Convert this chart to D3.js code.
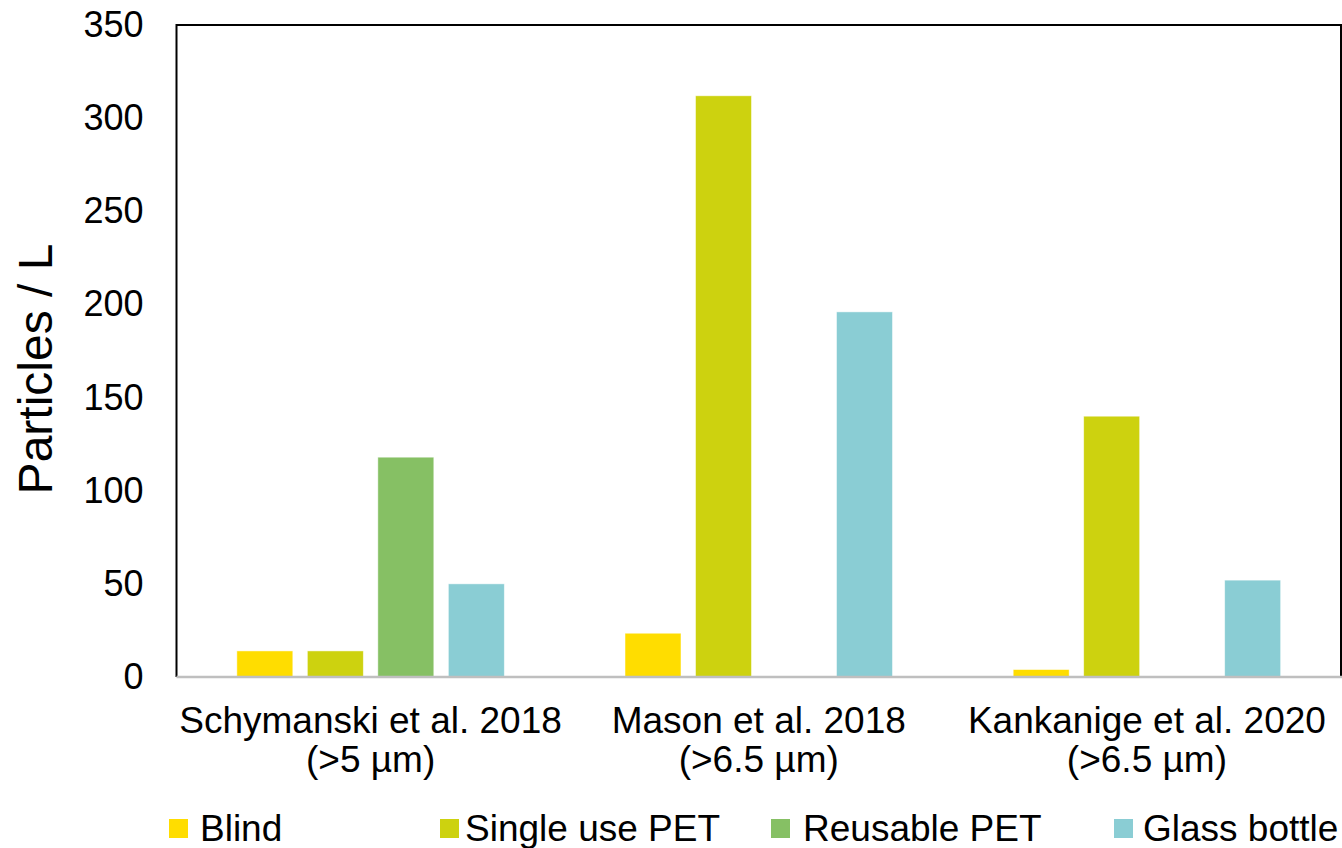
<!DOCTYPE html>
<html>
<head>
<meta charset="utf-8">
<script src="https://cdn.jsdelivr.net/npm/d3@7"></script>
<style>
  html, body { margin: 0; padding: 0; background: #fff; }
  svg { display: block; font-family: "Liberation Sans", Arial, sans-serif; }
</style>
</head>
<body>
<svg id="chart" width="1342" height="848"></svg>
<script>
// ---- data ----
const studies = ["Schymanski et al. 2018", "Mason et al. 2018", "Kankanige et al. 2020"];
const studySizes = ["(>5 µm)", "(>6.5 µm)", "(>6.5 µm)"];
const seriesNames = ["Blind", "Single use PET", "Reusable PET", "Glass bottle"];
const blindValues = [14, 23.5, 4];
const singleUseValues = [14, 312, 140];
const reusableValues = [118, null, null];
const glassValues = [50, 196, 52];
const yTicks = [0, 50, 100, 150, 200, 250, 300, 350];
const yLabel = "Particles / L";

// ---- styles / layout ----
const colors = ["#FFDD00", "#CDD20F", "#86C064", "#8ACDD4"];
const legendSwatchX = [169, 440, 771, 1114];
const legendTextX = [200, 465, 803, 1143];

const seriesValues = [blindValues, singleUseValues, reusableValues, glassValues];
const rows = [];
studies.forEach((s, i) => {
  seriesNames.forEach((n, j) => {
    const v = seriesValues[j][i];
    if (v !== null && v !== undefined) rows.push({ study: s, series: n, value: v, color: colors[j] });
  });
});

const svg = d3.select("#chart");
const plotLeft = 176.5, plotRight = 1341, plotTop = 25, plotBottom = 677;

const x0 = d3.scaleBand().domain(studies).range([plotLeft, plotRight]).padding(0);
const x1 = d3.scaleBand().domain(seriesNames).range([0, x0.bandwidth()])
  .paddingInner(0.206).paddingOuter(0.856);
const y = d3.scaleLinear().domain([0, 350]).range([plotBottom, plotTop]);

// bars
svg.append("g").selectAll("rect").data(rows).join("rect")
  .attr("x", d => x0(d.study) + x1(d.series))
  .attr("y", d => y(d.value))
  .attr("width", x1.bandwidth())
  .attr("height", d => y(0) - y(d.value))
  .attr("fill", d => d.color)
  .attr("stroke", "#ffffff")
  .attr("stroke-opacity", 0.6)
  .attr("stroke-width", 0.8);

// frame: top, left, right black
svg.append("path")
  .attr("d", `M${plotLeft},${plotBottom} V${plotTop} H${plotRight} V${plotBottom}`)
  .attr("fill", "none").attr("stroke", "#000").attr("stroke-width", 2);

// bottom axis line (gray)
svg.append("line")
  .attr("x1", plotLeft).attr("x2", plotRight + 1)
  .attr("y1", y(0)).attr("y2", y(0))
  .attr("stroke", "#BFBFBF").attr("stroke-width", 2.5);

// y axis labels
const yAxis = d3.axisLeft(y).tickValues(yTicks).tickSize(0).tickPadding(33).tickFormat(d3.format("d"));
const gy = svg.append("g").attr("transform", `translate(${plotLeft},0)`).call(yAxis);
gy.select(".domain").remove();
gy.selectAll("text")
  .attr("font-family", "Liberation Sans, Arial, sans-serif")
  .attr("font-size", 36).attr("fill", "#000");

// x axis labels (two lines)
const xl = svg.append("g");
studies.forEach((s, i) => {
  const cx = x0(s) + x0.bandwidth() / 2;
  xl.append("text").attr("x", cx).attr("y", 733).attr("text-anchor", "middle")
    .attr("font-size", 37).attr("fill", "#000").text(s);
  xl.append("text").attr("x", cx).attr("y", 772).attr("text-anchor", "middle")
    .attr("font-size", 37).attr("fill", "#000").text(studySizes[i]);
});

// y axis title
svg.append("text")
  .attr("transform", `translate(52,${369}) rotate(-90)`)
  .attr("text-anchor", "middle")
  .attr("font-size", 48).attr("fill", "#000")
  .text(yLabel);

// legend
const lg = svg.append("g");
seriesNames.forEach((n, j) => {
  lg.append("rect").attr("x", legendSwatchX[j]).attr("y", 819)
    .attr("width", 19).attr("height", 19).attr("fill", colors[j]);
  lg.append("text").attr("x", legendTextX[j]).attr("y", 841)
    .attr("font-size", 37).attr("fill", "#000").text(n);
});
</script>
</body>
</html>
